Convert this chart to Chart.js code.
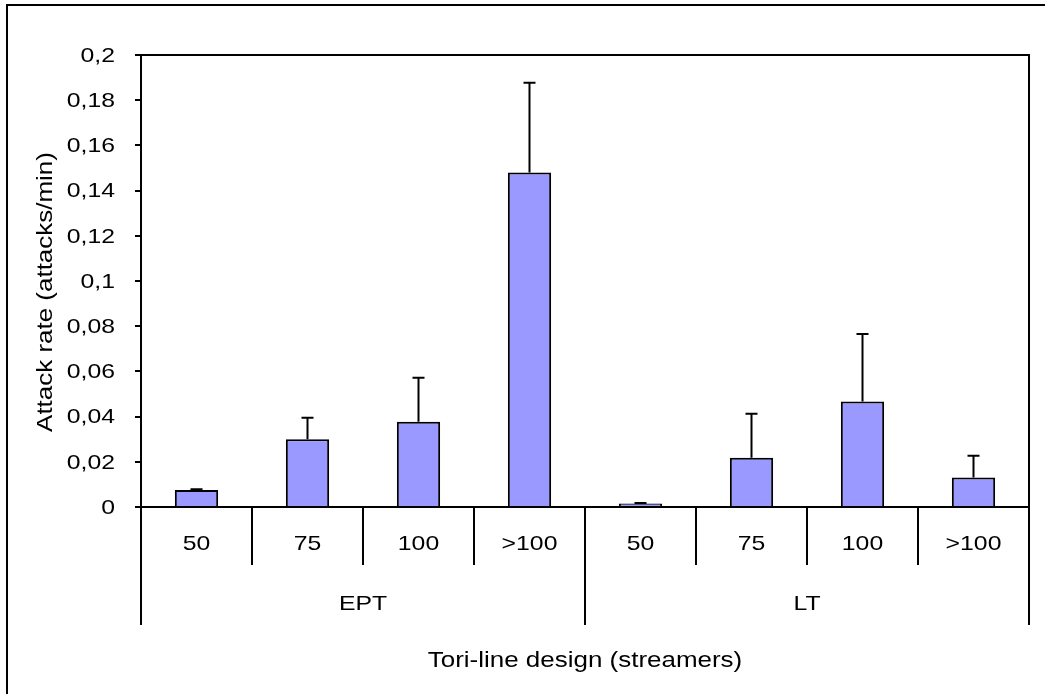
<!DOCTYPE html>
<html>
<head>
<meta charset="utf-8">
<script src="https://cdn.jsdelivr.net/npm/chart.js@4/dist/chart.umd.min.js"></script>
<style>
  html, body { margin: 0; padding: 0; background: #ffffff; }
  #wrap { width: 1045px; height: 694px; position: relative; }
</style>
</head>
<body>
<div id="wrap"><canvas id="c"></canvas></div>
<script>
// Streamer counts within each tori-line design
const streamers = ['50', '75', '100', '>100', '50', '75', '100', '>100'];
const designs = ['EPT', 'LT'];
// Mean attack rate (attacks/min) and upper error per bar
const eptRate = [0.0075, 0.030, 0.0377, 0.148];
const eptErr  = [0.0003, 0.0095, 0.0195, 0.0397];
const ltRate  = [0.0015, 0.0218, 0.0467, 0.0131];
const ltErr   = [0.0003, 0.0195, 0.0298, 0.0096];
const yTitle = 'Attack rate (attacks/min)';
const xTitle = 'Tori-line design (streamers)';

const rates = eptRate.concat(ltRate);
const errors = eptErr.concat(ltErr);

const FONT = "'Liberation Sans', Arial, sans-serif";
const TEXT_SIZE = 21;
const WIDEN = 1.18;   // slightly widened lettering

function label(ctx, str, x, y, align, size) {
  ctx.save();
  ctx.translate(x, y);
  ctx.scale(WIDEN, 1);
  ctx.font = size + 'px ' + FONT;
  ctx.textAlign = align;
  ctx.textBaseline = 'middle';
  ctx.fillStyle = '#000';
  ctx.fillText(str, 0, 0);
  ctx.restore();
}

const fmt = (v) => String(Number(v.toFixed(2))).replace('.', ',');

// Error bars, plot frame, separators, tick labels, group labels and titles
const decor = {
  id: 'decor',
  afterDatasetsDraw(chart) {
    const ctx = chart.ctx;
    const area = chart.chartArea;
    const x = chart.scales.x;
    const y = chart.scales.y;
    const meta = chart.getDatasetMeta(0);
    ctx.save();
    ctx.strokeStyle = '#000';
    ctx.lineWidth = 2;
    ctx.lineCap = 'butt';

    // upper error bars
    meta.data.forEach((bar, i) => {
      const top = y.getPixelForValue(rates[i] + errors[i]);
      ctx.beginPath();
      ctx.moveTo(bar.x, bar.y);
      ctx.lineTo(bar.x, top);
      ctx.moveTo(bar.x - 6, top);
      ctx.lineTo(bar.x + 6, top);
      ctx.stroke();
    });

    // plot area frame (top and right)
    ctx.beginPath();
    ctx.moveTo(area.left, area.top);
    ctx.lineTo(area.right, area.top);
    ctx.lineTo(area.right, area.bottom);
    ctx.stroke();

    // separators under the axis
    const step = (area.right - area.left) / streamers.length;
    const groupSize = streamers.length / designs.length;
    for (let i = 0; i <= streamers.length; i++) {
      const px = Math.round(area.left + i * step);
      const isGroup = i % groupSize === 0;
      ctx.beginPath();
      ctx.moveTo(px, area.bottom);
      ctx.lineTo(px, isGroup ? area.bottom + 118 : area.bottom + 58);
      ctx.stroke();
    }
    ctx.restore();

    // y tick labels
    y.ticks.forEach((t) => {
      label(ctx, fmt(t.value), area.left - 26, y.getPixelForValue(t.value) + 1, 'right', TEXT_SIZE);
    });

    // category labels
    streamers.forEach((s, i) => {
      label(ctx, s, x.getPixelForValue(i), area.bottom + 37, 'center', TEXT_SIZE);
    });

    // group labels
    designs.forEach((d, g) => {
      const cx = area.left + (g + 0.5) * groupSize * step;
      label(ctx, d, cx, area.bottom + 97, 'center', TEXT_SIZE);
    });

    // x-axis title
    label(ctx, xTitle, (area.left + area.right) / 2, 661, 'center', 22);

    // y-axis title
    ctx.save();
    ctx.translate(46, 292);
    ctx.rotate(-Math.PI / 2);
    label(ctx, yTitle, 0, 0, 'center', 22);
    ctx.restore();

    // outer chart border
    ctx.save();
    ctx.strokeStyle = '#000';
    ctx.lineWidth = 2;
    ctx.strokeRect(7, 5, 1060, 720);
    ctx.restore();
  }
};

new Chart(document.getElementById('c'), {
  type: 'bar',
  data: {
    labels: streamers,
    datasets: [{
      data: rates,
      backgroundColor: '#9999ff',
      borderColor: '#000000',
      borderWidth: 2,
      borderSkipped: 'bottom',
      barPercentage: 0.39,
      categoryPercentage: 1.0
    }]
  },
  options: {
    responsive: true,
    maintainAspectRatio: false,
    animation: false,
    devicePixelRatio: 1,
    layout: { padding: { top: 55, right: 16, left: 0, bottom: 0 } },
    plugins: {
      legend: { display: false },
      tooltip: { enabled: false }
    },
    scales: {
      x: {
        grid: { display: false, drawTicks: false },
        border: { display: true, color: '#000', width: 2 },
        ticks: { display: false },
        afterFit(scale) { scale.height = 187; }
      },
      y: {
        min: 0,
        max: 0.2,
        grid: {
          drawOnChartArea: false,
          drawTicks: true,
          tickLength: 6,
          color: '#000',
          lineWidth: 2
        },
        border: { display: true, color: '#000', width: 2 },
        ticks: { display: false, stepSize: 0.02 },
        afterFit(scale) { scale.width = 141; }
      }
    }
  },
  plugins: [decor]
});
</script>
</body>
</html>
